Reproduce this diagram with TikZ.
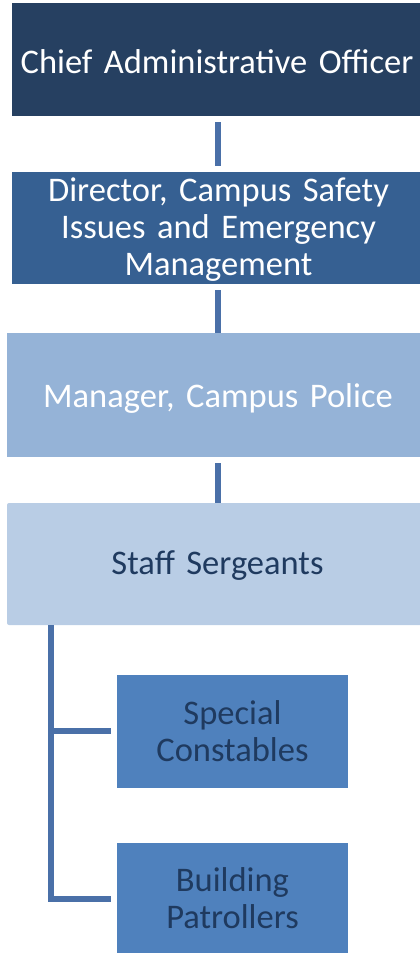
\documentclass[tikz,border=0pt]{standalone}
\usepackage{fontspec}
\setmainfont{Carlito}[WordSpace=0.7]
\usetikzlibrary{positioning,calc}

\definecolor{navy}{HTML}{264061}
\definecolor{steel}{HTML}{366092}
\definecolor{pale}{HTML}{95B3D7}
\definecolor{paler}{HTML}{B9CDE5}
\definecolor{mid}{HTML}{4F81BD}
\definecolor{link}{HTML}{4A70A8}
\definecolor{ink}{HTML}{1F3A5F}

\begin{document}
\begin{tikzpicture}[x=1pt,y=-1pt,
    box/.style={inner sep=0pt,align=center,text width=#1,
      font=\fontsize{34.5}{37}\selectfont},
    link/.style={draw=link,line width=6pt}]

    \useasboundingbox (0,0) rectangle (420,953);

    \fill[navy] (12,3) rectangle (420,116); % top
    \node[box=410pt,text=white] (cao) at (217,62) {Chief Administrative Officer};

    \fill[steel] (12,172) rectangle (420,284);
    \node[box=400pt,text=white] (dir) at (218.5,230) {Director, Campus Safety\\Issues and Emergency\\Management};

    \fill[pale] (7,333) rectangle (420,457);
    \node[box=400pt,text=white] (mgr) at (218,398) {Manager, Campus Police};

    \fill[paler,rounded corners=2pt] (7,503) rectangle (425,625);
    \node[box=400pt,text=ink] (ssg) at (217.5,566) {Staff Sergeants};

    \fill[mid] (117,675) rectangle (348,788);
    \node[box=230pt,text=ink] (sc) at (232.5,731) {Special\\Constables};

    \fill[mid] (117,843) rectangle (348,960);
    \node[box=230pt,text=ink] (bp) at (232.5,898.5) {Building\\Patrollers};

    % connectors
    \coordinate (t1) at (218,116);
    \coordinate (b1) at (218,172);
    \coordinate (t2) at (218,284);
    \coordinate (b2) at (218,333);
    \coordinate (t3) at (218,457);
    \coordinate (b3) at (218,503);
    \draw[link,shorten <=6pt,shorten >=6pt] (t1) -- (b1);
    \draw[link,shorten <=6pt] (t2) -- (b2);
    \draw[link,shorten <=6pt] (t3) -- (b3);

    \coordinate (root) at (51,625);
    \draw[link] (root) |- ($(sc.west)+(-6,0)$ -| 111,0);
    \draw[link] (root) |- (111,899);

\end{tikzpicture}
\end{document}
